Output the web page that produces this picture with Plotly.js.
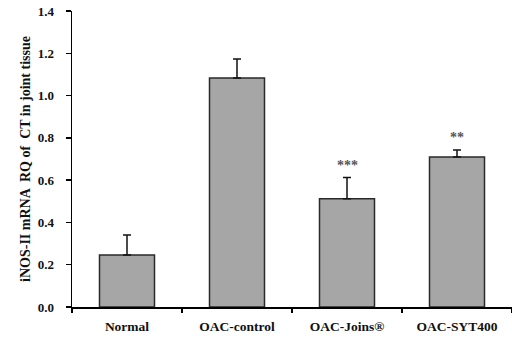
<!DOCTYPE html>
<html><head><meta charset="utf-8">
<script src="https://cdn.plot.ly/plotly-3.0.1.min.js"></script>
<style>html,body{margin:0;padding:0;background:#fff}#chart{width:512px;height:337px}</style>
</head><body><div id="chart"></div>
<script>
const categories = ["Normal", "OAC-control", "OAC-Joins®", "OAC-SYT400"];
const values = [0.246, 1.083, 0.512, 0.710];
const errors = [0.095, 0.090, 0.100, 0.033];
const marks = ["", "", "***", "**"];
const yTicks = [0, 0.2, 0.4, 0.6, 0.8, 1.0, 1.2, 1.4];

const serif = "Liberation Serif, Times New Roman, serif";
const trace = {
  type: "bar", x: categories, y: values, width: 0.5,
  marker: {color: "#a6a6a6", line: {color: "#2a2a2a", width: 1.5}},
  error_y: {type: "data", array: errors, arrayminus: errors.map(() => 0), symmetric: false,
            color: "#111", thickness: 1.5, width: 4},
  hoverinfo: "none"
};
const annotations = [];
categories.forEach((c, i) => {
  if (marks[i]) annotations.push({x: c, y: values[i] + errors[i], text: "<b>" + marks[i] + "</b>",
    showarrow: false, yanchor: "bottom", yshift: 3, font: {family: serif, size: 14, color: "#555555"}});
});
const layout = {
  width: 512, height: 337,
  margin: {l: 72, r: 0, t: 11, b: 30},
  paper_bgcolor: "#fff", plot_bgcolor: "#fff",
  showlegend: false,
  xaxis: {type: "category", tickson: "boundaries", ticks: "outside", ticklen: 4, tickwidth: 1.5,
          tickcolor: "#000", showline: true, linecolor: "#000", linewidth: 1.5, showgrid: false,
          ticklabelstandoff: 6,
          tickfont: {family: serif, size: 13.5, color: "#111", weight: "bold"}},
  yaxis: {range: [0, 1.4], tickvals: yTicks, ticktext: yTicks.map(v => v.toFixed(1)),
          ticks: "outside", ticklen: 5, tickwidth: 1.5, tickcolor: "#000",
          showline: true, linecolor: "#000", linewidth: 1.5, showgrid: false, zeroline: false,
          ticklabelstandoff: 9,
          tickfont: {family: serif, size: 13, color: "#111", weight: "bold"},
          title: {text: "<b>iNOS-II mRNA  RQ of  CT in joint tissue</b>", standoff: 4,
                  font: {family: serif, size: 14, color: "#111"}}},
  annotations: annotations
};
Plotly.newPlot("chart", [trace], layout, {staticPlot: true, displayModeBar: false});
</script></body></html>
